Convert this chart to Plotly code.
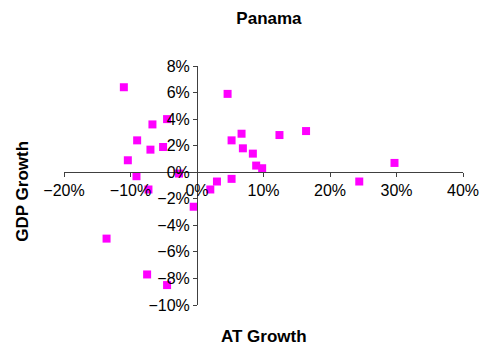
import plotly.graph_objects as go

# AT growth vs GDP growth, Panama (fractions)
at_growth = [-0.110, 0.046, -0.067, -0.045, -0.090, -0.070, -0.051, -0.104,
             -0.091, -0.027, -0.073, 0.052, 0.067, 0.069, 0.084, 0.089,
             0.098, 0.052, 0.030, 0.020, 0.124, 0.164, 0.297, 0.244,
             -0.005, -0.136, -0.075, -0.045]
gdp_growth = [0.064, 0.059, 0.036, 0.040, 0.024, 0.017, 0.019, 0.009,
              -0.003, -0.001, -0.013, 0.024, 0.029, 0.018, 0.014, 0.005,
              0.003, -0.005, -0.007, -0.013, 0.028, 0.031, 0.007, -0.007,
              -0.026, -0.050, -0.077, -0.085]

font_name = "Liberation Sans, Arial, sans-serif"

fig = go.Figure(go.Scatter(
    x=at_growth, y=gdp_growth, mode="markers",
    marker=dict(symbol="square", size=8, color="#FF00FF"),
))

fig.update_layout(
    width=489, height=350,
    margin=dict(l=64, r=26, t=66, b=45),
    paper_bgcolor="white", plot_bgcolor="white",
    font=dict(family=font_name, size=16, color="black"),
    showlegend=False,
    title=dict(text="<b>Panama</b>", x=0.55, xref="container", xanchor="center",
               y=0.949, yref="container", yanchor="middle",
               font=dict(size=17)),
)

# axes cross at zero, like the Excel original
fig.update_xaxes(
    range=[-0.2, 0.4], tickvals=[-0.2, -0.1, 0, 0.1, 0.2, 0.3, 0.4],
    tickformat=".0%", showgrid=False, zeroline=False,
    showline=True, linecolor="#404040", linewidth=1,
    ticks="outside", ticklen=4, tickcolor="#404040",
    anchor="free", position=10 / 18, automargin=False,
)
fig.update_yaxes(
    range=[-0.1, 0.08], tickvals=[-0.1, -0.08, -0.06, -0.04, -0.02, 0, 0.02, 0.04, 0.06, 0.08],
    tickformat=".0%", showgrid=False, zeroline=False,
    showline=True, linecolor="#404040", linewidth=1,
    ticks="outside", ticklen=4, tickcolor="#404040",
    anchor="free", position=1 / 3, automargin=False,
)

# axis titles
fig.add_annotation(text="<b>AT Growth</b>", x=0.5, xref="paper", y=-0.13, yref="paper",
                   showarrow=False, font=dict(size=17), xanchor="center", yanchor="middle")
fig.add_annotation(text="<b>GDP Growth</b>", x=-0.103, xref="paper", y=0.478, yref="paper",
                   showarrow=False, font=dict(size=17), textangle=-90,
                   xanchor="center", yanchor="middle")

# drop the browser's default 8px body margin so the figure sits at the page corner
fig.write_html("out.html", config={"displayModeBar": False},
               post_script="document.body.style.margin='0';")
